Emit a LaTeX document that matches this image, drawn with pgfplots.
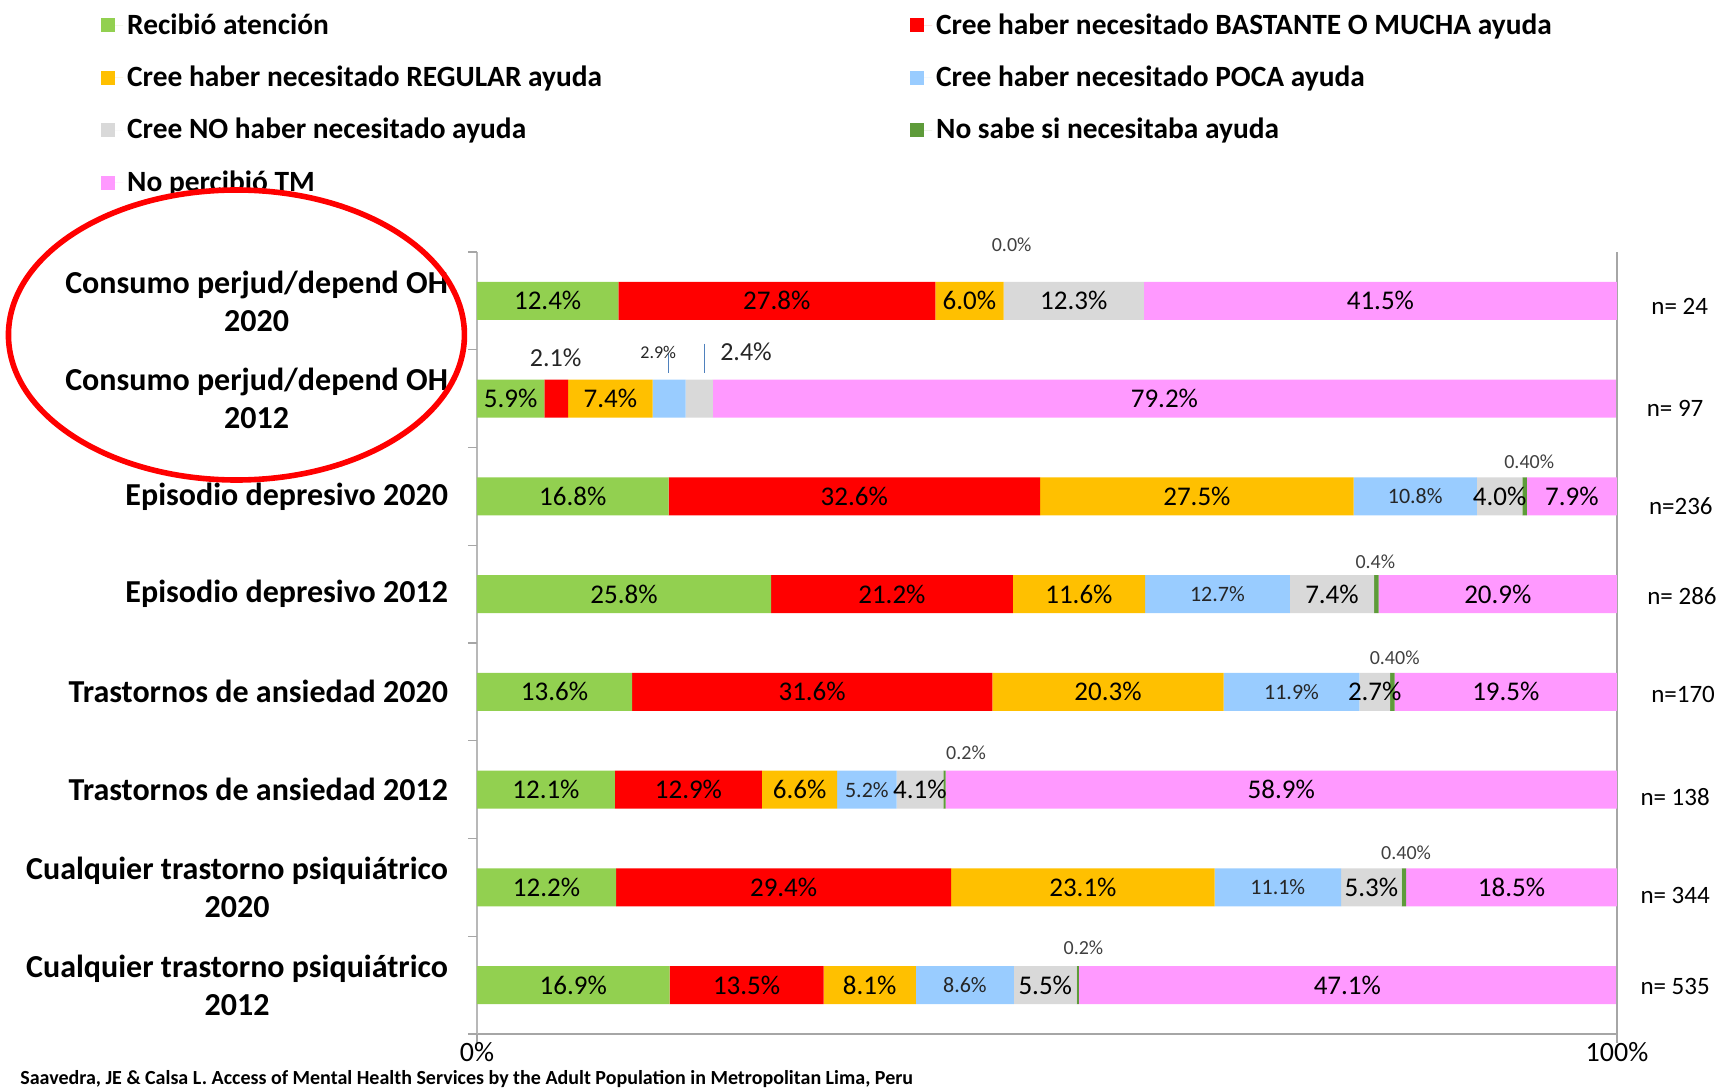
\documentclass[border=0pt]{standalone}
\usepackage{fontspec}
\setmainfont{Carlito}
\usepackage{pgfplots}
\pgfplotsset{compat=1.18}
\usepackage{pgfplotstable}

\definecolor{cgreen}{HTML}{92D050}
\definecolor{cred}{HTML}{FF0000}
\definecolor{corange}{HTML}{FFC000}
\definecolor{cblue}{HTML}{99CCFF}
\definecolor{cgray}{HTML}{D9D9D9}
\definecolor{cdkgreen}{HTML}{5E9B3A}
\definecolor{cpink}{HTML}{FF99FF}
\definecolor{axgray}{HTML}{A6A6A6}
\definecolor{lead}{HTML}{4F81BD}

% y = 7 - row (row 0 = top)
\pgfplotstableread{
y green red orange blue gray dkgreen pink
7 12.4 27.8 6.0 0.0 12.3 0.0 41.5
6 5.9 2.1 7.4 2.9 2.4 0.0 79.2
5 16.8 32.6 27.5 10.8 4.0 0.4 7.9
4 25.8 21.2 11.6 12.7 7.4 0.4 20.9
3 13.6 31.6 20.3 11.9 2.7 0.4 19.5
2 12.1 12.9 6.6 5.2 4.1 0.2 58.9
1 12.2 29.4 23.1 11.1 5.3 0.4 18.5
0 16.9 13.5 8.1 8.6 5.5 0.2 47.1
}\datatable

% labels centred in segments
\pgfplotstableread{
x y l
6.2 7 12.4
26.3 7 27.8
43.2 7 6.0
52.35 7 12.3
79.25 7 41.5
2.95 6 5.9
11.7 6 7.4
60.3 6 79.2
8.4 5 16.8
33.1 5 32.6
63.15 5 27.5
89.7 5 4.0
96.05 5 7.9
12.9 4 25.8
36.4 4 21.2
52.8 4 11.6
75.0 4 7.4
89.55 4 20.9
6.8 3 13.6
29.4 3 31.6
55.35 3 20.3
78.75 3 2.7
90.25 3 19.5
6.05 2 12.1
18.55 2 12.9
28.3 2 6.6
38.85 2 4.1
70.55 2 58.9
6.1 1 12.2
26.9 1 29.4
53.15 1 23.1
78.45 1 5.3
90.75 1 18.5
8.45 0 16.9
23.65 0 13.5
34.45 0 8.1
49.85 0 5.5
76.35 0 47.1
}\biglabels

\pgfplotstableread{
x y l
82.3 5 10.8
64.95 4 12.7
71.45 3 11.9
34.2 2 5.2
70.25 1 11.1
42.8 0 8.6
}\smalllabels

\pgfplotstableread{
x y l
46.9 7.57 0.0
92.3 5.35 0.40
78.8 4.33 0.4
80.5 3.35 0.40
42.9 2.38 0.2
81.5 1.35 0.40
53.2 0.38 0.2
}\toplabels

\pgfplotstableread{
x y l
6.9 6.42 2.1
23.6 6.48 2.4
}\ohlabels

\begin{document}
\begin{tikzpicture}
\useasboundingbox (-238.5pt,-27pt) rectangle (622pt,517pt);
\begin{axis}[
  at={(0,0)}, anchor=south west,
  scale only axis, width=570pt, height=391pt,
  xbar stacked, bar width=19pt,
  xmin=0, xmax=100, ymin=-0.5, ymax=7.5,
  axis lines*=left,
  x axis line style={-, draw=axgray, line width=1.3pt},
  y axis line style={-, draw=axgray!80, line width=0.6pt},
  xtick={0,100}, xticklabels={0\%,100\%},
  xmajorgrids, grid style={draw=axgray, line width=0.8pt},
  tick align=outside, major tick length=4.5pt,
  xtick style={draw=axgray, line width=0.6pt},
  xticklabel style={font=\fontsize{14}{17}\selectfont, inner sep=0pt, yshift=0.5pt},
  ytick={0,...,7},
  ytick style={draw=none},
  yticklabels={{Cualquier trastorno psiquiátrico\\2012},{Cualquier trastorno psiquiátrico\\2020},{Trastornos de ansiedad 2012},{Trastornos de ansiedad 2020},{Episodio depresivo 2012},{Episodio depresivo 2020},{Consumo perjud/depend OH\\2012},{Consumo perjud/depend OH\\2020}},
  yticklabel style={align=center, font=\bfseries\fontsize{16}{19}\selectfont, xshift=-6.5pt},
  extra y ticks={-0.5,0.5,...,7.5},
  extra y tick labels={},
  extra y tick style={ytick style={draw=axgray, line width=0.6pt}},
  legend columns=2,
  legend cell align=left,
  legend style={at={(-0.330,1.3107)}, anchor=north west, draw=none, fill=none,
    inner sep=0pt, row sep=10.4pt,
    nodes={inner sep=2pt},
    font=\bfseries\fontsize{14.7}{17}\selectfont,
    /tikz/every even column/.append style={column sep=152pt}},
  legend image code/.code={\fill[#1] (0pt,-3.5pt) rectangle (7pt,3.5pt); \path (0pt,0pt) -- (11pt,0pt);},
]
\addplot[fill=cgreen, draw=none] table[x=green, y=y] \datatable;
\addlegendentry{Recibió atención}
\addplot[fill=cred, draw=none] table[x=red, y=y] \datatable;
\addlegendentry{Cree haber necesitado BASTANTE O MUCHA ayuda}
\addplot[fill=corange, draw=none] table[x=orange, y=y] \datatable;
\addlegendentry{Cree haber necesitado REGULAR ayuda}
\addplot[fill=cblue, draw=none] table[x=blue, y=y] \datatable;
\addlegendentry{Cree haber necesitado POCA ayuda}
\addplot[fill=cgray, draw=none] table[x=gray, y=y] \datatable;
\addlegendentry{Cree NO haber necesitado ayuda}
\addplot[fill=cdkgreen, draw=none] table[x=dkgreen, y=y] \datatable;
\addlegendentry{No sabe si necesitaba ayuda}
\addplot[fill=cpink, draw=none] table[x=pink, y=y] \datatable;
\addlegendentry{No percibió TM}
\end{axis}

\begin{axis}[
  at={(0,0)}, anchor=south west,
  scale only axis, width=570pt, height=391pt,
  xmin=0, xmax=100, ymin=-0.5, ymax=7.5,
  hide axis, clip=false,
]
\addplot[draw=none, mark=none, point meta=explicit symbolic,
  nodes near coords={\pgfplotspointmeta\%}, nodes near coords align={center},
  every node near coord/.append style={font=\fontsize{13.5}{16}\selectfont, text=black, inner sep=0pt}]
  table[x=x, y=y, meta=l] \biglabels;
\addplot[draw=none, mark=none, point meta=explicit symbolic,
  nodes near coords={\pgfplotspointmeta\%}, nodes near coords align={center},
  every node near coord/.append style={font=\fontsize{11}{13}\selectfont, text=black!85, inner sep=0pt}]
  table[x=x, y=y, meta=l] \smalllabels;
\addplot[draw=none, mark=none, point meta=explicit symbolic,
  nodes near coords={\pgfplotspointmeta\%}, nodes near coords align={center},
  every node near coord/.append style={font=\fontsize{10}{12}\selectfont, text=black!75, inner sep=0pt}]
  table[x=x, y=y, meta=l] \toplabels;
\addplot[draw=none, mark=none, point meta=explicit symbolic,
  nodes near coords={\pgfplotspointmeta\%}, nodes near coords align={center},
  every node near coord/.append style={font=\fontsize{13}{15}\selectfont, text=black!85, inner sep=0pt}]
  table[x=x, y=y, meta=l] \ohlabels;
\addplot[draw=none, mark=none, point meta=explicit symbolic,
  nodes near coords={\pgfplotspointmeta\%}, nodes near coords align={center},
  every node near coord/.append style={font=\fontsize{9}{11}\selectfont, text=black!85, inner sep=0pt}]
  coordinates {(15.9,6.47) [2.9]};
% sample sizes
\addplot[draw=none, mark=none, point meta=explicit symbolic,
  nodes near coords={\pgfplotspointmeta}, nodes near coords align={center},
  every node near coord/.append style={font=\fontsize{12.5}{15}\selectfont, text=black, inner sep=0pt}]
  coordinates {(105.5,6.944) [n= 24] (105.1,5.90) [n= 97] (105.6,4.90) [n=236]
    (105.7,3.98) [n= 286] (105.8,2.97) [n=170] (105.1,1.92) [n= 138]
    (105.1,0.92) [n= 344] (105.1,-0.01) [n= 535]};
% leader lines
\draw[lead, line width=0.5pt] (axis cs:16.8,6.463) -- (axis cs:16.8,6.26);
\draw[lead, line width=0.5pt] (axis cs:20.0,6.564) -- (axis cs:20.0,6.26);
% highlight ellipse
\draw[red, line width=2.8pt] (axis cs:-21.1,6.651) ellipse [x radius=114pt, y radius=72.5pt];
\end{axis}

\node[anchor=base west, font=\bfseries\fontsize{10}{12}\selectfont, inner sep=0pt]
  at (-228.5pt,-25.2pt) {Saavedra, JE \& Calsa L. Access of Mental Health Services by the Adult Population in Metropolitan Lima, Peru};
\end{tikzpicture}
\end{document}
